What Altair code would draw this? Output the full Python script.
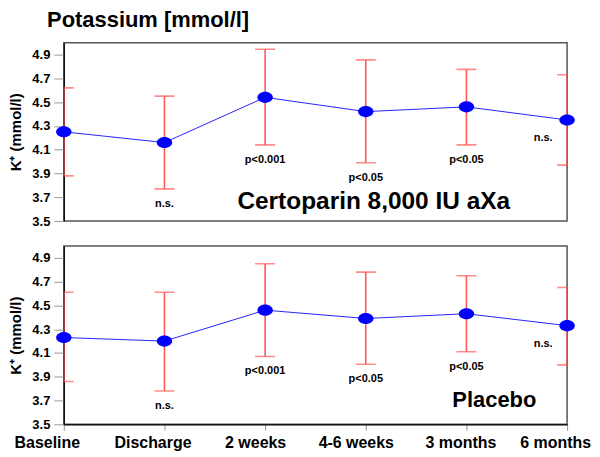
import altair as alt
import pandas as pd

time_points = ["Baseline", "Discharge", "2 weeks", "4-6 weeks", "3 months", "6 months"]

cert_mean = [4.25, 4.16, 4.54, 4.42, 4.46, 4.35]
cert_lo = [3.88, 3.77, 4.14, 3.99, 4.14, 3.97]
cert_hi = [4.62, 4.55, 4.945, 4.855, 4.775, 4.73]
cert_p = ["", "n.s.", "p<0.001", "p<0.05", "p<0.05", "n.s."]

plac_mean = [4.23, 4.20, 4.46, 4.39, 4.43, 4.33]
plac_lo = [3.86, 3.78, 4.07, 4.005, 4.11, 4.00]
plac_hi = [4.61, 4.61, 4.85, 4.78, 4.75, 4.65]
plac_p = ["", "n.s.", "p<0.001", "p<0.05", "p<0.05", "n.s."]

y_ticks = [3.5, 3.7, 3.9, 4.1, 4.3, 4.5, 4.7, 4.9]

FONT = "Liberation Sans"
W, H = 505, 179
ELLIPSE = "M-1,0A1,0.72,0,1,1,1,0A1,0.72,0,1,1,-1,0Z"

x_label_offset = {
    "condition": [
        {"test": "datum.value == 'Baseline'", "value": -17},
        {"test": "datum.value == 'Discharge'", "value": -12},
        {"test": "datum.value == '3 months'", "value": -6},
        {"test": "datum.value == '6 months'", "value": -12},
    ],
    "value": -10,
}


def panel(mean, lo, hi, pvals, label, lab_x, lab_y, lab_size, show_x):
    df = pd.DataFrame({"time": time_points, "mean": mean, "lo": lo, "hi": hi, "p": pvals})
    if show_x:
        xaxis = alt.Axis(title=None, labelAngle=0, labelFontSize=16, labelFontWeight="bold",
                         labelFont=FONT, labelColor="black", labelOffset=x_label_offset,
                         labelPadding=4, tickColor="#999", tickSize=6, domainColor="black",
                         domainWidth=1.2)
    else:
        xaxis = None
    x = alt.X("time:N", sort=time_points,
              scale=alt.Scale(type="point", padding=0, domain=time_points), axis=xaxis)
    yscale = alt.Scale(domain=[3.5, 5.0], nice=False, zero=False)
    yaxis = alt.Axis(title="K⁺ (mmol/l)", values=y_ticks, format=".1f", grid=False,
                     labelOverlap=False,
                     labelFontSize=13, labelFontWeight="bold", labelFont=FONT, labelColor="black",
                     labelPadding=4, tickColor="#999", tickSize=10, domainColor="black",
                     domainWidth=1.2, titleFontSize=15, titleFont=FONT, titleFontWeight="bold",
                     titleColor="black", titlePadding=8)
    y = lambda f: alt.Y(f, scale=yscale, axis=yaxis)
    base = alt.Chart(df)
    line = base.mark_line(color="#2626ff", strokeWidth=1).encode(x=x, y=y("mean:Q"))
    err = base.mark_rule(color="#ff5a5a", strokeWidth=1.6, clip=True).encode(
        x=x, y=y("lo:Q"), y2="hi:Q")
    cap_hi = base.mark_tick(color="#ff5a5a", thickness=1.6, size=20, orient="horizontal",
                            clip=True).encode(x=x, y=y("hi:Q"))
    cap_lo = base.mark_tick(color="#ff5a5a", thickness=1.6, size=20, orient="horizontal",
                            clip=True).encode(x=x, y=y("lo:Q"))
    pts = base.mark_point(shape=ELLIPSE, filled=True, fill="#0000ff", color="#0000ff",
                          opacity=1, size=240).encode(x=x, y=y("mean:Q"))
    txt = base.transform_filter(
        "datum.time != '6 months'"
    ).mark_text(fontSize=11, fontWeight="bold", font=FONT, color="black", dy=15,
                baseline="middle").encode(x=x, y=y("lo:Q"), text="p:N")
    txt_end = base.transform_filter(
        "datum.time == '6 months'"
    ).mark_text(fontSize=11, fontWeight="bold", font=FONT, color="black", dy=18, dx=-24,
                baseline="middle").encode(x=x, y=y("mean:Q"), text="p:N")
    lab = alt.Chart(pd.DataFrame({"t": [label]})).mark_text(
        fontSize=lab_size, fontWeight="bold", font=FONT, color="black", baseline="middle",
        align="center").encode(x=alt.value(lab_x), y=alt.value(lab_y), text="t:N")
    return alt.layer(err, cap_hi, cap_lo, line, pts, txt, txt_end, lab).properties(width=W, height=H)


top = panel(cert_mean, cert_lo, cert_hi, cert_p, "Certoparin 8,000 IU aXa", 311, 160, 24.5, False)
bottom = panel(plac_mean, plac_lo, plac_hi, plac_p, "Placebo", 432, 155, 22, True)

chart = alt.vconcat(top, bottom, spacing=16).properties(
    title=alt.TitleParams("Potassium [mmol/l]", anchor="start", fontSize=22, fontWeight="bold",
                          font=FONT, color="black", dx=39, offset=10),
    padding={"left": 0, "top": 0, "right": 0, "bottom": 0},
).configure_view(stroke="#555", strokeWidth=1.5)

chart.save("out.html", embed_options={"renderer": "svg", "actions": False})
